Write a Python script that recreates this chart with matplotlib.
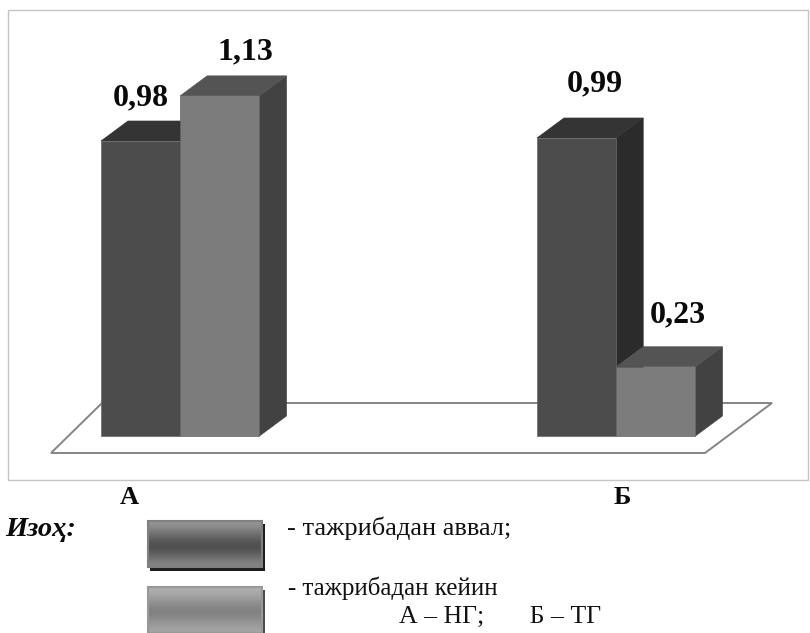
import matplotlib
matplotlib.use("Agg")
import matplotlib.pyplot as plt
import numpy as np
from matplotlib.patches import Polygon, Rectangle

plt.rcParams['font.family'] = ['Liberation Serif', 'DejaVu Serif']

groups = ["А", "Б"]
before = [0.98, 0.99]
after = [1.13, 0.23]
before_labels = ["0,98", "0,99"]
after_labels = ["1,13", "0,23"]
legend_before = "- тажрибадан аввал;"
legend_after = "- тажрибадан кейин"
note_title = "Изоҳ:"
note_groups = "А – НГ;       Б – ТГ"

PX = 301.0  # pixels per unit


def yv(py):
    # picture row to value
    return (436 - py) / PX


fig = plt.figure(figsize=(8.1, 6.33), dpi=100)
ax = fig.add_axes([0, 0, 1, 1])
ax.set_xlim(0, 810)
ax.set_ylim(yv(633), yv(0))
ax.axis("off")

# frame and floor
ax.add_patch(Rectangle((8, yv(480)), 800, yv(10) - yv(480), fc="white", ec="#c4c4c4", lw=1))
floor = [(51, yv(453)), (102, yv(403)), (772, yv(403)), (705, yv(453))]
ax.add_patch(Polygon(floor, closed=True, fc="white", ec="#858585", lw=1.4))

DX = 27
DY = 20 / PX
W = 79.2


def bar3d(x, val, front, top, side):
    ax.add_patch(Polygon([(x + W, 0), (x + W + DX, DY), (x + W + DX, val + DY), (x + W, val)], fc=side, ec=side, lw=0.5))
    ax.add_patch(Polygon([(x, val), (x + DX, val + DY), (x + W + DX, val + DY), (x + W, val)], fc=top, ec=top, lw=0.5))
    ax.bar(x, val, width=W, align="edge", color=front, edgecolor="#666666", linewidth=0.5)


starts = [101, 537]
for i in range(len(groups)):
    bar3d(starts[i], before[i], "#4c4c4c", "#343434", "#2b2b2b")
    bar3d(starts[i] + W, after[i], "#7c7c7c", "#545454", "#424242")

val_font = dict(fontsize=23, fontweight="bold", ha="center", va="center", color="#0a0a0a")
ax.text(141, before[0] + 43 / PX, before_labels[0], **val_font)
ax.text(245, after[0] + 44 / PX, after_labels[0], **val_font)
ax.text(595, before[1] + 54 / PX, before_labels[1], **val_font)
ax.text(678, after[1] + 52 / PX, after_labels[1], **val_font)

ax.text(129, yv(497), groups[0], fontsize=19, fontweight="bold", ha="center", va="center", color="#0a0a0a")
ax.text(622, yv(497), groups[1], fontsize=19, fontweight="bold", ha="center", va="center", color="#0a0a0a")

# legend swatches with banded fill
dark_band = np.array([0.58, 0.50, 0.42, 0.34, 0.30, 0.36, 0.44, 0.52]).reshape(-1, 1)
light_band = np.array([0.68, 0.64, 0.58, 0.52, 0.50, 0.55, 0.60, 0.64]).reshape(-1, 1)

ax.add_patch(Rectangle((150, yv(571)), 115, yv(524) - yv(571), fc="#1c1c1c", ec="none"))
ax.imshow(dark_band, extent=(148, 262, yv(567), yv(521)), cmap="gray", vmin=0, vmax=1,
          aspect="auto", interpolation="bicubic", zorder=3)
ax.add_patch(Rectangle((148, yv(567)), 114, yv(521) - yv(567), fc="none", ec="#808080", lw=1.5, zorder=4))

ax.add_patch(Rectangle((150, yv(634)), 115, yv(590) - yv(634), fc="#4a4a4a", ec="none"))
ax.imshow(light_band, extent=(148, 262, yv(633), yv(587)), cmap="gray", vmin=0, vmax=1,
          aspect="auto", interpolation="bicubic", zorder=3)
ax.add_patch(Rectangle((148, yv(633)), 114, yv(587) - yv(633), fc="none", ec="#999999", lw=1.5, zorder=4))

ax.set_xlim(0, 810)
ax.set_ylim(yv(633), yv(0))

ax.text(5, yv(530), note_title, fontsize=20.5, fontweight="bold", style="italic", ha="left", va="center", color="#0a0a0a")
ax.text(287, yv(528), legend_before, fontsize=19, ha="left", va="center", color="#111111")
ax.text(288, yv(588), legend_after, fontsize=18, ha="left", va="center", color="#111111")
ax.text(399, yv(617), note_groups, fontsize=18.5, ha="left", va="center", color="#111111")

fig.savefig("out.png", dpi=100)
